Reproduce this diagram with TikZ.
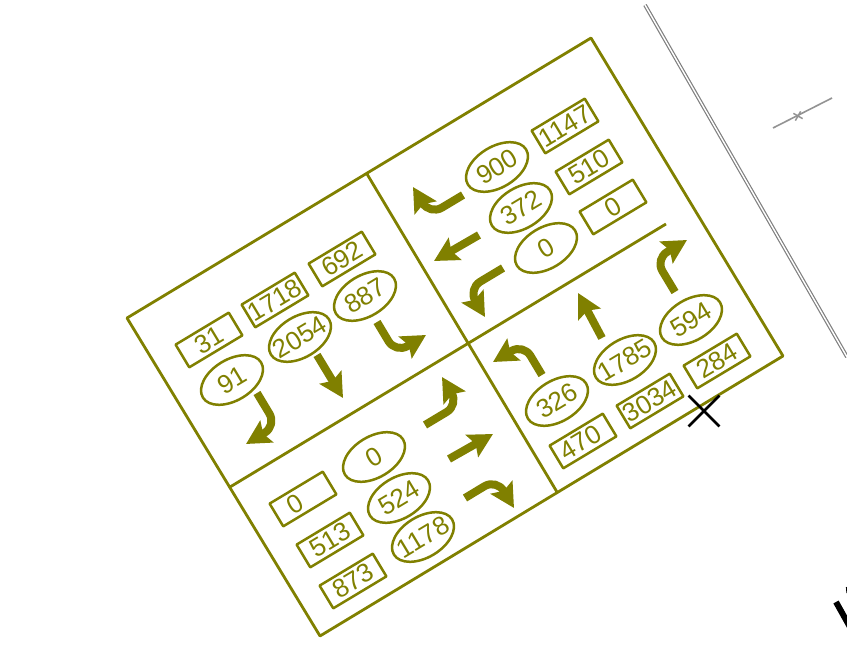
\documentclass[tikz,border=0pt]{standalone}
\usepackage{fontspec}
\setmainfont{Liberation Sans}
\usetikzlibrary{arrows.meta,shapes.geometric,shapes.misc}
\definecolor{olivec}{HTML}{808000}
\tikzset{
  boxn/.style={draw=olivec,line width=2.5pt,rectangle,rotate=31,minimum width=62pt,minimum height=26.5pt,inner sep=0pt,text=olivec,font=\fontsize{26}{26}\selectfont},
  ellin/.style={draw=olivec,line width=2.5pt,ellipse,rotate=31,minimum width=68pt,minimum height=41pt,inner sep=0pt,text=olivec,font=\fontsize{26}{26}\selectfont},
  flow/.style={draw=olivec,fill=none,line width=8pt,-{Stealth[length=24pt,width=25pt,inset=4pt,fill=olivec]}},
  turn/.style={flow,rounded corners=14pt}
}
\begin{document}
\begin{tikzpicture}[x=1pt,y=-1pt,line join=round]
        \useasboundingbox (0,0) rectangle (847,650);
        % frame of the junction
        \coordinate (A) at (127,318);
        \coordinate (B) at (591,38);
        \coordinate (C) at (783,356);
        \coordinate (D) at (320,636);
        \coordinate (N) at (367,174);
        \coordinate (S) at (557,492);
        \coordinate (W) at (230,487);
        \coordinate (E) at (666,224);
        \draw[olivec,line width=2.8pt] (A) -- (B) -- (C) -- (D) -- cycle;
        \draw[olivec,line width=2.8pt] (N) -- (S);
        \draw[olivec,line width=2.8pt] (W) -- (E);
        % boxes
        \foreach \x/\y/\t/\n in {209/340/31/a,275/300/1718/b,342/259/692/c,
                565/126/1147/d,589/167/510/e,613/207/0/f,
                717/361/284/g,650/401/3034/h,
                353/581/873/i,330/540/513/j}
            \node[boxn] (box\n) at (\x,\y) {\t};
        \node[boxn] (boxk) at (583,441) {\hspace*{-6pt}470};
        \node[boxn] (boxl) at (303,499) {\hspace*{-18pt}0};
        % ellipses
        \foreach \x/\y/\t/\n in {232/380/91/a,300/337/2054/b,365/296/887/c,
                497/167/900/d,521/208/372/e,546/248/0/f,
                691/320/594/g,625/360/1785/h,557/401/326/i,
                423/537/1178/j,399/498/524/k,374/457/0/l}
            \node[ellin] (ell\n) at (\x,\y) {\makebox[0pt]{\t}};
        % straight arrows
        \coordinate (t1) at (343,398);
        \coordinate (s1) at (317,355);
        \coordinate (t2) at (434,261);
        \coordinate (s2) at (479,235);
        \coordinate (t3) at (578,293);
        \coordinate (s3) at (602,338);
        \coordinate (t4) at (493,434);
        \coordinate (s4) at (449,459);
        \draw[flow] (s1) -- (t1);
        \draw[flow] (s2) -- (t2);
        \draw[flow] (s3) -- (t3);
        \draw[flow] (s4) -- (t4);
        % turning arrows
        \draw[turn] (257,393) -- (276.6,425.6) -- (246,444);
        \draw[turn] (377,322) -- (395.7,353.2) -- (426,335);
        \draw[turn] (463,195) -- (429.8,214.9) -- (413,187);
        \draw[turn] (503,268) -- (468.2,288.9) -- (485,317);
        \draw[turn] (675,292) -- (655.2,259.1) -- (687,240);
        \draw[turn] (542,375) -- (523.3,343.8) -- (493,362);
        \draw[turn] (465,498) -- (496.5,479) -- (514,508);
        \draw[turn] (425,425) -- (458.7,404.8) -- (442,377);
        % things around it
        \coordinate (r1) at (645,5);
        \coordinate (r2) at (847,357);
        \draw[gray,line width=1.2pt,double=white,double distance=1.4pt] (r1) -- (r2);
        \coordinate (m1) at (773,128);
        \coordinate (m2) at (832,98);
        \draw[gray!85,line width=1.6pt] (m1) -- (m2);
        \node[cross out,draw=gray!85,line width=1.5pt,minimum size=6pt,inner sep=0pt,rotate=15] (mk) at (798,116) {};
        \node[cross out,draw=black,line width=2.8pt,minimum size=28pt,inner sep=0pt] (xm) at (704,411) {};
        \coordinate (k1) at (836,602);
        \coordinate (k2) at (850,627);
        \draw[black,line width=6pt] (k1) -- (k2);
        \coordinate (k3) at (846.5,587);
        \coordinate (k4) at (847,593);
        \draw[black,line width=1.2pt] (k3) -- (k4);
\end{tikzpicture}
\end{document}
